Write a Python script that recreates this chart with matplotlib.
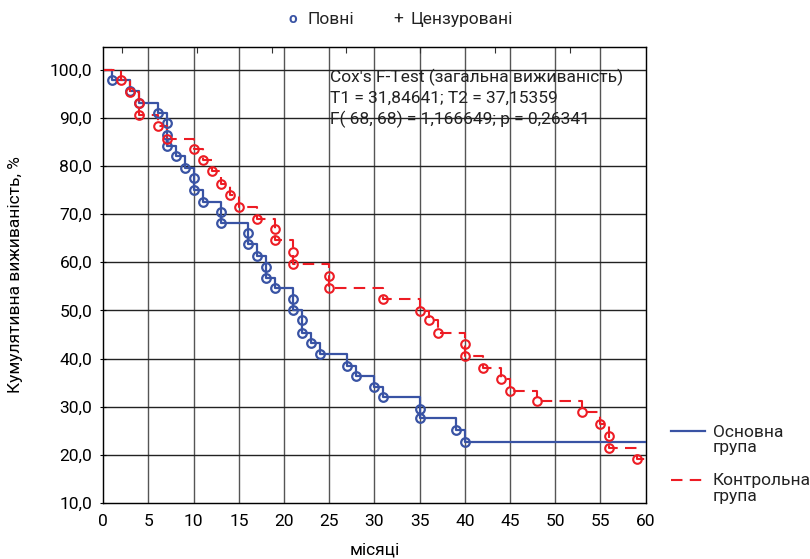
import matplotlib
matplotlib.use("Agg")
import matplotlib.pyplot as plt
from matplotlib.lines import Line2D

plt.rcParams['font.family'] = ['Roboto', 'DejaVu Sans']
plt.rcParams['font.size'] = 12

# main group (blue) - event times (months) and survival after each event, %
main_t = [1, 3, 4, 6, 7, 7, 7, 8, 9, 10, 10, 11, 13, 13, 16, 16, 17,
          18, 18, 19, 21, 21, 22, 22, 23, 24, 27, 28, 30, 31, 35, 35, 39, 40]
main_s = [97.8, 95.5, 93.1, 91.0, 88.9, 86.5, 84.1, 82.0, 79.6, 77.5, 75.1,
          72.6, 70.5, 68.1, 66.0, 63.8, 61.3, 59.1, 56.8, 54.7, 52.3, 50.0,
          47.9, 45.4, 43.3, 41.0, 38.5, 36.4, 34.0, 32.1, 29.6, 27.6, 25.2, 22.6]

# control group (red)
ctrl_t = [2, 3, 4, 4, 6, 7, 10, 11, 12, 13, 14, 15, 17, 19, 19, 21, 21,
          25, 25, 31, 35, 36, 37, 40, 40, 42, 44, 45, 48, 53, 55, 56, 56, 59]
ctrl_s = [97.8, 95.4, 93.1, 90.6, 88.2, 85.6, 83.5, 81.3, 78.9, 76.3, 73.9,
          71.5, 69.0, 66.9, 64.6, 62.1, 59.7, 57.2, 54.7, 52.3, 49.9, 47.9,
          45.4, 43.0, 40.5, 38.1, 35.8, 33.3, 31.2, 28.8, 26.4, 24.0, 21.5, 19.1]

x_ticks = list(range(0, 61, 5))
y_ticks = [10, 20, 30, 40, 50, 60, 70, 80, 90, 100]
top_ticks = [2.07, 10.36, 18.65, 26.84, 35.03, 43.3, 51.6]

BLUE = '#3953a4'
RED = '#ed1c24'

fig = plt.figure(figsize=(8.1, 5.59), dpi=100)
ax = fig.add_axes([0.1275, 0.1002, 0.6695, 0.8166])

ax.set_xlim(0, 60)
ax.set_ylim(10, 104.8)

# grid
for x in x_ticks[1:-1]:
    ax.axvline(x, color='#555555', lw=1.0, zorder=1)
for y in y_ticks[1:]:
    ax.axhline(y, color='#222222', lw=1.0, zorder=1)

# step lines
ax.plot([0] + main_t + [60], [100] + main_s + [main_s[-1]],
        drawstyle='steps-post', color=BLUE, lw=1.6, zorder=3)
ax.plot([0] + ctrl_t + [60], [100] + ctrl_s + [ctrl_s[-1]],
        drawstyle='steps-post', color=RED, lw=1.5, ls=(0, (5.5, 3.5)), zorder=3)

# complete observations
ax.plot(main_t, main_s, 'o', ms=6.2, mfc='none', mec=BLUE, mew=1.6, zorder=4)
ax.plot(ctrl_t, ctrl_s, 'o', ms=6.2, mfc='none', mec=RED, mew=1.5, zorder=4)

ax.set_xticks(x_ticks)
ax.set_yticks(y_ticks)
ax.set_yticklabels([f"{v:.1f}".replace('.', ',') for v in y_ticks])
ax.tick_params(axis='x', length=0, pad=8, labelsize=12.5)
ax.tick_params(axis='y', length=4, direction='inout', pad=6, labelsize=12.5)
for sp in ax.spines.values():
    sp.set_color('#222222')
    sp.set_linewidth(1.0)

# small ticks on top edge
ax2 = ax.twiny()
ax2.set_xlim(0, 60)
ax2.set_xticks(top_ticks)
ax2.set_xticklabels([])
ax2.tick_params(axis='x', direction='in', length=4, color='#333333')

ax.text(0.418, 0.9515, "Cox's F-Test (загальна виживаність)\nT1 = 31,84641; T2 = 37,15359\nF( 68, 68) = 1,166649; p = 0,26341",
        transform=ax.transAxes, ha='left', va='top', fontsize=12.5,
        linespacing=1.4, color='#222222', zorder=5)

ax.set_xlabel("місяці", fontsize=12.5, labelpad=10)
ax.set_ylabel("Кумулятивна виживаність, %", fontsize=12.5, labelpad=19)

# top legend
fig.text(0.3617, 0.9665, 'o', color=BLUE, fontsize=11, ha='center', va='center',
         fontweight='bold')
fig.text(0.380, 0.965, 'Повні', fontsize=12.5, ha='left', va='center', color='#222222')
fig.text(0.4915, 0.965, '+', fontsize=12.5, ha='center', va='center', color='#222222')
fig.text(0.507, 0.965, 'Цензуровані', fontsize=12.5, ha='left', va='center', color='#222222')

# right legend
fig.add_artist(Line2D([0.829, 0.870], [0.229, 0.229], color=BLUE, lw=1.6,
                      transform=fig.transFigure))
fig.text(0.880, 0.213, 'Основна\nгрупа', fontsize=12.5, ha='left', va='center',
         linespacing=1.05, color='#222222')
fig.add_artist(Line2D([0.829, 0.870], [0.141, 0.141], color=RED, lw=1.5,
                      ls=(0, (5.5, 3.5)), transform=fig.transFigure))
fig.text(0.880, 0.126, 'Контрольна\nгрупа', fontsize=12.5, ha='left', va='center',
         linespacing=1.05, color='#222222')

fig.savefig('out.png', dpi=100)
